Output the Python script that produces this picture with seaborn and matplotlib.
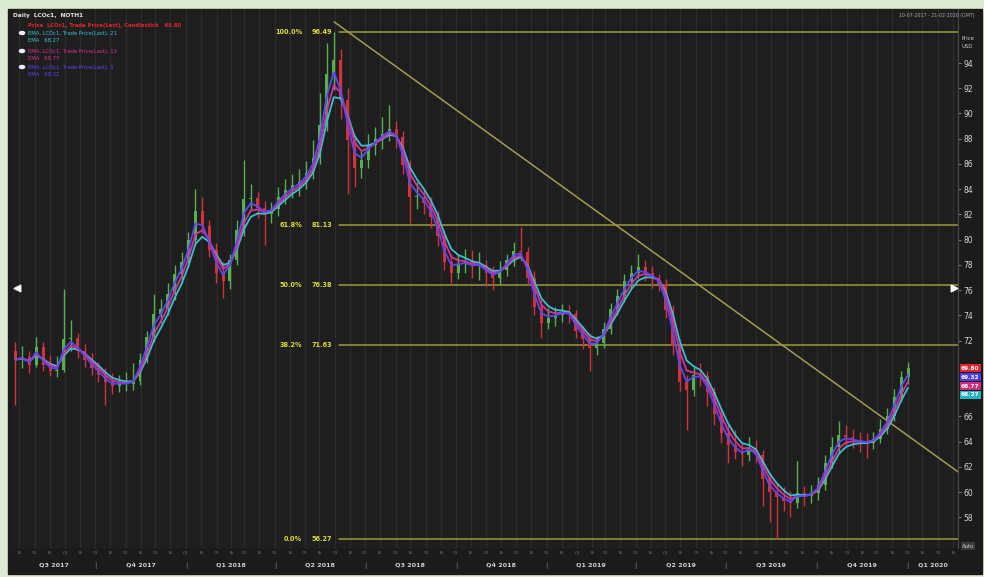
import pandas as pd
import seaborn as sns
import matplotlib.pyplot as plt
import matplotlib.dates as mdates
import matplotlib.transforms as mtransforms
from matplotlib.patches import Rectangle

# Weekly candles (week starting Monday)
week_start = "2017-07-10"
opens = [71.2, 70.5, 70.7, 70.1, 71.5, 70.1, 69.6, 69.7, 72.1, 72.2,
         71.2, 70.5, 69.8, 69.3, 68.7, 68.4, 68.6, 68.6, 68.8, 70.5,
         72.3, 74.1, 74.5, 75.7, 77.3, 78.2, 80.0, 82.3, 81.1, 79.2,
         77.4, 76.7, 78.4, 80.8, 83.2, 83.3, 82.5, 82.0, 82.4, 83.4,
         83.9, 84.3, 84.6, 85.3, 86.5, 89.1, 93.1, 94.2, 91.1, 87.9,
         85.7, 86.3, 87.5, 88.0, 88.4, 88.8, 88.1, 85.9, 83.4, 83.4,
         82.9, 81.8, 80.3, 78.2, 77.4, 78.1, 78.2, 77.9, 78.0, 77.4,
         77.0, 77.6, 78.4, 79.1, 79.0, 77.0, 74.7, 73.4, 73.8, 74.0,
         74.3, 74.1, 72.8, 72.1, 71.4, 71.8, 72.9, 74.5, 75.5, 76.7,
         77.4, 77.8, 77.4, 77.0, 76.5, 74.4, 71.6, 68.7, 68.1, 69.3,
         69.2, 67.9, 66.2, 64.7, 63.7, 63.2, 62.9, 63.5, 62.9, 61.0,
         60.0, 59.6, 59.3, 59.1, 59.9, 59.7, 59.9, 60.6, 62.3, 63.6,
         64.5, 64.4, 64.1, 64.0, 63.9, 64.2, 65.0, 66.0, 67.5, 69.1]
highs = [71.9, 71.6, 71.2, 72.3, 71.9, 70.9, 70.8, 76.1, 73.6, 72.6,
         71.7, 71.0, 70.3, 69.8, 69.4, 69.3, 69.5, 70.2, 71.0, 72.8,
         75.7, 75.3, 76.6, 78.0, 79.0, 80.6, 84.0, 83.4, 81.6, 79.7,
         78.2, 78.9, 81.6, 86.3, 84.4, 83.8, 83.1, 83.0, 84.2, 84.8,
         85.2, 85.6, 86.2, 87.9, 91.6, 95.6, 96.49, 95.1, 92.0, 88.3,
         87.0, 88.4, 88.9, 89.7, 90.7, 89.4, 88.6, 86.3, 84.6, 84.1,
         83.4, 82.3, 80.8, 78.9, 78.9, 79.3, 79.2, 79.0, 78.4, 77.9,
         78.3, 78.9, 79.8, 81.0, 79.4, 77.5, 75.2, 74.6, 74.7, 74.9,
         74.8, 74.4, 73.2, 72.6, 72.4, 73.5, 75.0, 76.1, 77.3, 78.0,
         78.9, 78.4, 77.9, 77.3, 76.9, 74.8, 72.1, 69.3, 69.9, 70.2,
         69.6, 68.3, 66.7, 65.3, 64.9, 63.9, 64.4, 64.1, 63.3, 61.5,
         60.7, 60.4, 60.1, 62.5, 60.5, 60.6, 61.2, 62.9, 64.4, 65.6,
         65.3, 65.0, 64.8, 64.7, 64.8, 65.8, 66.7, 68.2, 69.6, 70.3]
lows = [66.9, 69.8, 69.4, 69.9, 69.6, 69.2, 69.1, 69.5, 71.2, 70.6,
        69.9, 69.3, 68.7, 66.9, 67.8, 67.9, 68.0, 68.1, 68.5, 70.2,
        71.9, 73.4, 74.0, 75.2, 76.6, 77.8, 79.6, 80.5, 78.6, 76.6,
        75.4, 76.1, 78.0, 80.3, 82.3, 81.7, 79.6, 81.3, 81.9, 82.8,
        83.3, 83.5, 84.0, 84.8, 86.0, 88.6, 91.9, 89.6, 83.6, 84.2,
        84.9, 85.7, 86.7, 87.2, 87.8, 87.3, 85.2, 81.3, 82.4, 82.0,
        80.9, 79.5, 77.6, 76.6, 76.9, 77.4, 77.0, 76.8, 76.3, 76.0,
        76.5, 77.1, 77.9, 78.3, 76.4, 74.0, 72.2, 72.9, 73.2, 73.5,
        73.4, 72.2, 71.3, 69.6, 70.9, 71.4, 72.5, 74.0, 75.1, 76.2,
        77.0, 76.7, 76.2, 75.9, 73.8, 70.9, 68.0, 64.9, 67.6, 68.4,
        66.8, 65.3, 63.9, 62.3, 62.6, 62.1, 62.5, 62.3, 58.9, 57.6,
        56.27, 58.5, 58.0, 58.7, 58.9, 59.1, 59.4, 60.2, 61.9, 63.1,
        63.7, 63.5, 63.2, 62.7, 63.4, 63.9, 64.6, 65.6, 67.1, 68.6]
closes = [70.5, 70.7, 70.1, 71.5, 70.1, 69.6, 69.7, 72.1, 72.2, 71.2,
          70.5, 69.8, 69.3, 68.7, 68.4, 68.6, 68.6, 68.8, 70.5, 72.3,
          74.1, 74.5, 75.7, 77.3, 78.2, 80.0, 82.3, 81.1, 79.2, 77.4,
          76.7, 78.4, 80.8, 83.2, 83.3, 82.5, 82.0, 82.4, 83.4, 83.9,
          84.3, 84.6, 85.3, 86.5, 89.1, 93.1, 94.2, 91.1, 87.9, 85.7,
          86.3, 87.5, 88.0, 88.4, 88.8, 88.1, 85.9, 83.4, 83.4, 82.9,
          81.8, 80.3, 78.2, 77.4, 78.1, 78.2, 77.9, 78.0, 77.4, 77.0,
          77.6, 78.4, 79.1, 79.0, 77.0, 74.7, 73.4, 73.8, 74.0, 74.3,
          74.1, 72.8, 72.1, 71.4, 71.8, 72.9, 74.5, 75.5, 76.7, 77.4,
          77.8, 77.4, 77.0, 76.5, 74.4, 71.6, 68.7, 68.1, 69.3, 69.2,
          67.9, 66.2, 64.7, 63.7, 63.2, 62.9, 63.5, 62.9, 61.0, 60.0,
          59.6, 59.3, 59.1, 59.9, 59.7, 59.9, 60.6, 62.3, 63.6, 64.5,
          64.4, 64.1, 64.0, 63.9, 64.2, 65.0, 66.0, 67.5, 69.1, 69.8]

# Fibonacci retracement drawn from the 2018 high
fib_pct = ["100.0%", "61.8%", "50.0%", "38.2%", "0.0%"]
fib_levels = [96.49, 81.13, 76.38, 71.63, 56.27]
fib_start = "2018-06-05"

# Falling trendline
trend_dates = ["2018-05-31", "2020-02-22"]
trend_prices = [97.25, 61.55]

price_ticks = [58, 60, 62, 64, 66, 72, 74, 76, 78, 80, 82, 84, 86, 88, 90, 92, 94]

quarter_labels = ["Q3 2017", "Q4 2017", "Q1 2018", "Q2 2018", "Q3 2018",
                  "Q4 2018", "Q1 2019", "Q2 2019", "Q3 2019", "Q4 2019", "Q1 2020"]
quarter_starts = ["2017-07-01", "2017-10-01", "2018-01-01", "2018-04-01", "2018-07-01",
                  "2018-10-01", "2019-01-01", "2019-04-01", "2019-07-01", "2019-10-01",
                  "2020-01-01"]

W, H = 984, 577
BG = "#1e1e1e"

df = pd.DataFrame({"open": opens, "high": highs, "low": lows, "close": closes})
df["date"] = pd.date_range(week_start, periods=len(df), freq="7D") + pd.Timedelta(hours=60)
df["EMA 2"] = df["close"].ewm(span=2, adjust=False).mean()
df["EMA 3"] = df["close"].ewm(span=3, adjust=False).mean()
df["EMA 5"] = df["close"].ewm(span=4, adjust=False).mean()
ema_long = df.melt(id_vars="date", value_vars=["EMA 5", "EMA 3", "EMA 2"],
                   var_name="line", value_name="value")
ema_colors = {"EMA 5": "#35c3d3", "EMA 3": "#d8309a", "EMA 2": "#5b48f5"}

sns.set_style("dark", rc={"axes.facecolor": BG, "figure.facecolor": "#deebd4"})
plt.rcParams["font.family"] = ["DejaVu Sans"]

fig = plt.figure(figsize=(W / 100, H / 100), dpi=100)
fig.patches.append(Rectangle((8 / W, 1 - 574 / H), 974 / W, 565 / H,
                             transform=fig.transFigure, color="#1b1b1b", zorder=-5))
ax = fig.add_axes([12 / W, 1 - 548 / H, 946 / W, 539 / H], zorder=1)
ax.set_facecolor(BG)

# candles
up = df["close"] >= df["open"]
cols = ["#55b04e" if u else "#d2323a" for u in up]
ax.vlines(df["date"], df["low"], df["high"], colors=cols, lw=1.0, zorder=2)
body_lo = df[["open", "close"]].min(axis=1)
body_h = (df["close"] - df["open"]).abs().clip(lower=0.1)
ax.bar(df["date"], body_h, bottom=body_lo, width=3.0, color=cols, lw=0, zorder=2)

sns.lineplot(data=ema_long, x="date", y="value", hue="line", palette=ema_colors,
             legend=False, lw=1.3, ax=ax, zorder=3)

# fib lines and labels
fs = pd.Timestamp(fib_start)
for pct, lvl in zip(fib_pct, fib_levels):
    ax.plot([fs, pd.Timestamp("2020-03-31")], [lvl, lvl], color="#9b9b3a", lw=1.1, zorder=1)
    ax.annotate(pct, (fs, lvl), xytext=(-37, 0), textcoords="offset pixels", ha="right",
                va="center", color="#dcdc34", fontsize=4.7, fontweight="bold")
    ax.annotate(f"{lvl:.2f}", (fs, lvl), xytext=(-7, 0), textcoords="offset pixels", ha="right",
                va="center", color="#dcdc34", fontsize=4.7, fontweight="bold")

ax.plot(pd.to_datetime(trend_dates), trend_prices, color="#a39c52", lw=1.1, zorder=1)

# axes ranges / ticks
ax.set_xlim(pd.Timestamp("2017-07-09"), pd.Timestamp("2020-02-21"))
ax.set_ylim(55.57, 98.28)
ax.set_xlabel("")
ax.set_ylabel("")
ax.yaxis.tick_right()
ax.set_yticks(price_ticks)
ax.tick_params(axis="y", labelsize=5.5, labelcolor="#d6d6d6", length=2, color="#777", pad=2)
ax.xaxis.set_major_locator(mdates.MonthLocator(bymonthday=[1, 16]))
ax.xaxis.set_major_formatter(mdates.DateFormatter("%d"))
ax.tick_params(axis="x", labelsize=3.2, labelcolor="#6d6d6d", length=0, pad=2)
ax.grid(axis="x", color="#2c2c2c", lw=0.9)
ax.grid(axis="y", visible=False)
for s in ["top", "left", "bottom"]:
    ax.spines[s].set_visible(False)
ax.spines["right"].set_color("#4a4a4a")
ax.spines["right"].set_linewidth(0.8)

# quarter labels and separators
blend = mtransforms.blended_transform_factory(ax.transData, ax.transAxes)
qs = pd.to_datetime(quarter_starts)
xmax = pd.Timestamp("2020-02-21")
for i, lab in enumerate(quarter_labels):
    a = max(qs[i], pd.Timestamp("2017-07-09"))
    b = qs[i + 1] if i + 1 < len(qs) else xmax
    mid = a + (b - a) / 2
    ax.text(mid, -0.032, lab, transform=blend, ha="center", va="center",
            fontsize=4.6, color="#cfcfcf", fontweight="bold", clip_on=False)
    if i > 0:
        ax.text(qs[i], -0.032, "|", transform=blend, ha="center", va="center",
                fontsize=5, color="#777", clip_on=False)

# scroll arrows
yblend = mtransforms.blended_transform_factory(ax.transAxes, ax.transData)
ax.scatter([0.005], [76.2], marker="<", s=22, color="white", transform=yblend, zorder=5)
ax.scatter([0.996], [76.2], marker=">", s=22, color="white", transform=yblend, zorder=5)

# price tags on the right axis
last = df.iloc[-1]
tags = [(last["close"], "#e8222c"), (last["EMA 2"], "#4a3af0"),
        (last["EMA 3"], "#d42a7e"), (last["EMA 5"], "#22b5c5")]
prev = None
for val, c in tags:
    pos = val if prev is None else min(val, prev - 0.7)
    prev = pos
    ax.annotate(f"{val:.2f}", (1.0, pos), xycoords=yblend, xytext=(3, 0),
                textcoords="offset pixels", ha="left", va="center", fontsize=4.2,
                color="white", fontweight="bold", annotation_clip=False,
                bbox=dict(boxstyle="square,pad=0.25", fc=c, ec="none"))

# header / legend text
def ft(x, y, s, **kw):
    fig.text(x / W, 1 - y / H, s, va="center", **kw)

ft(13, 16, "Daily  LCOc1,  NOTH1", fontsize=4.2, color="#e6e6e6", fontweight="bold")
ft(28, 26, "Price  LCOc1, Trade Price(Last), Candlestick   69.80",
   fontsize=3.8, color="#e0262e", fontweight="bold")
legend_rows = [("EMA, LCOc1, Trade Price(Last), 21", "#35c3d3", 33),
               ("EMA, LCOc1, Trade Price(Last), 13", "#d8309a", 51),
               ("EMA, LCOc1, Trade Price(Last), 5", "#5b48f5", 67)]
for (txt, c, y), key in zip(legend_rows, ["EMA 5", "EMA 3", "EMA 2"]):
    fig.patches.append(plt.Circle((22 / W, 1 - y / H), 2.6 / W, transform=fig.transFigure,
                                  color="#e8e8ff", zorder=5))
    ft(28, y, txt, fontsize=3.8, color=c)
    ft(28, y + 8, f"EMA   {df[key].iloc[-1]:.2f}", fontsize=3.8, color=c)

ft(975, 15, "10-07-2017 - 21-02-2020 (GMT)", fontsize=3.4, color="#a8a8a8", ha="right")
ft(962, 38, "Price", fontsize=3.8, color="#cfcfcf")
ft(962, 47, "USD", fontsize=3.8, color="#cfcfcf")
ft(962, 546, "Auto", fontsize=3.8, color="#cfcfcf",
   bbox=dict(boxstyle="square,pad=0.2", fc="#3a3a3a", ec="none"))

fig.savefig("out.png", dpi=100, facecolor=fig.get_facecolor())
